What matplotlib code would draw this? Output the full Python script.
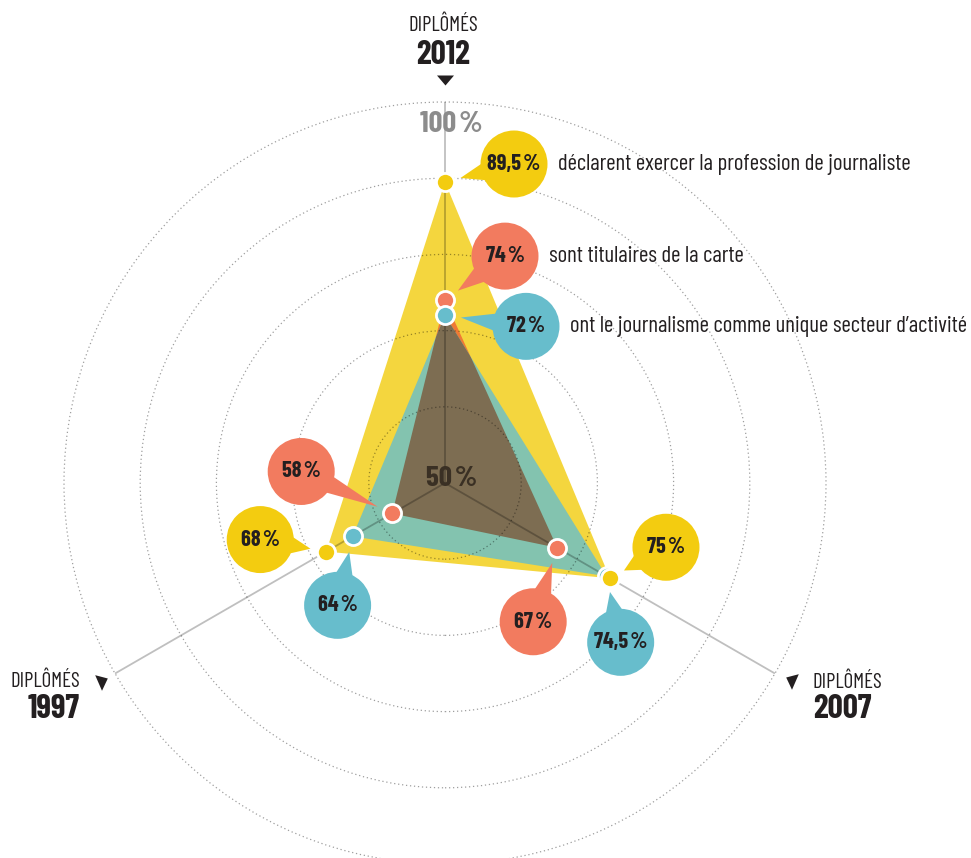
import numpy as np
import matplotlib
matplotlib.use('Agg')
import matplotlib.pyplot as plt
import matplotlib.transforms as mtransforms
from matplotlib.patches import Circle, Polygon

# ========== données ==========
years = ['2012', '2007', '1997']
axis_angles = [90, -30, 210]          # direction de chaque axe (degrés)
journalistes = [89.5, 75, 68]         # déclarent exercer la profession
carte = [74, 67, 58]                  # titulaires de la carte
unique = [72, 74.5, 64]               # unique secteur d'activité
ring_levels = [60, 70, 80, 90, 100]
series_texts = ['déclarent exercer la profession de journaliste',
                'sont titulaires de la carte',
                'ont le journalisme comme unique secteur d\u2019activité']

# ========== mise en page ==========
W, H = 971, 858
CX, CY = 445, 483         # centre du radar (px)
SCALE = 7.62              # px par point de %
R_BUBBLE = 33.5           # rayon des bulles (px)
GAP = 16                  # écart pointe / point (px)
# décalage des bulles par rapport au point (px, y vers le bas)
off_journalistes = [(69, -18), (56, -31), (-66, -12)]
off_carte = [(60, -44), (-24, 74), (-91, -42)]
off_unique = [(81, 11), (14, 66), (-15, 69)]

YELLOW = '#F3CC10'
YELLOW_FILL = '#F4D63E'
RED = '#F27B5F'
ORANGE = '#EF7A35'
BLUE = '#67BDCC'
TEAL = '#83C3AF'
BROWN = '#7D6D52'
INK = '#231F20'
HS = '\u200a'   # espace fine avant %

FONT = ['Barlow Condensed', 'DejaVu Sans']
plt.rcParams['font.family'] = FONT


def to_xy(values):
    a = np.radians(axis_angles)
    r = np.asarray(values, dtype=float) - 50
    return np.column_stack([r * np.cos(a), r * np.sin(a)])


def fmt(v):
    return f'{v:g}'.replace('.', ',') + HS + '%'


fig = plt.figure(figsize=(W / 100, H / 100), dpi=100)
ax = fig.add_axes([0, 0, 1, 1])
ax.set_xlim(-CX / SCALE, (W - CX) / SCALE)
ax.set_ylim(-(H - CY) / SCALE, CY / SCALE)
ax.axis('off')
pix = mtransforms.Affine2D().scale(1, -1).translate(0, H)

# polygones
p_j = to_xy(journalistes)
p_c = to_xy(carte)
p_u = to_xy(unique)
ax.add_patch(Polygon(p_j, closed=True, fc=YELLOW_FILL, ec='none', zorder=1))
ax.add_patch(Polygon(p_c, closed=True, fc=ORANGE, ec='none', zorder=2))
teal = Polygon(p_u, closed=True, fc=TEAL, ec='none', zorder=3)
ax.add_patch(teal)
brown = Polygon(p_c, closed=True, fc=BROWN, ec='none', zorder=4)
ax.add_patch(brown)
brown.set_clip_path(teal)

# cercles pointillés
for lvl in ring_levels:
    ax.add_patch(Circle((0, 0), lvl - 50, fill=False, ec='black', alpha=0.38,
                        lw=0.9, ls=(0, (1, 2.2)), zorder=5, clip_on=False))

# axes
for ang in axis_angles:
    a = np.radians(ang)
    ax.plot([0, 50 * np.cos(a)], [0, 50 * np.sin(a)], color='black',
            alpha=0.25, lw=1.3, zorder=5, solid_capstyle='butt')

ax.text(452, 478, '50' + HS + '%', transform=pix, ha='center', va='center',
        fontsize=21, fontweight='bold', color='#3A3024', zorder=6)
ax.text(451, 125, '100' + HS + '%', transform=pix, ha='center', va='center',
        fontsize=22, fontweight='bold', color='#8C8C8C', zorder=6)

# points + bulles
series = [(carte, p_c, off_carte, RED),
          (unique, p_u, off_unique, BLUE),
          (journalistes, p_j, off_journalistes, YELLOW)]
for vals, pts, offs, col in series:
    ax.scatter(pts[:, 0], pts[:, 1], s=170, color=col, edgecolor='white',
               linewidth=2, zorder=7)

for k, (vals, pts, offs, col) in enumerate(series):
    for v, p, (dx, dy) in zip(vals, pts, offs):
        c = p + np.array([dx, -dy]) / SCALE
        d = c - p
        u = d / np.hypot(*d)
        tip = p + u * GAP / SCALE
        phi = np.arctan2(*(tip - c)[::-1])
        rb = R_BUBBLE / SCALE
        b1 = c + rb * 0.95 * np.array([np.cos(phi + 0.28), np.sin(phi + 0.28)])
        b2 = c + rb * 0.95 * np.array([np.cos(phi - 0.28), np.sin(phi - 0.28)])
        ax.add_patch(Polygon([b1, tip, b2], closed=True, fc=col, ec='none',
                             zorder=8))
        ax.add_patch(Circle(c, rb, fc=col, ec='none', zorder=8))
        ax.text(c[0], c[1], fmt(v), ha='center', va='center', fontsize=16,
                fontweight='bold', color=INK, zorder=9)

# légendes des séries (bulles du haut)
for (vals, pts, offs, col), txt in zip(
        [series[2], series[0], series[1]], series_texts):
    c = pts[0] + np.array([offs[0][0], -offs[0][1]]) / SCALE
    ax.text(c[0] + (R_BUBBLE + 10) / SCALE, c[1], txt, ha='left',
            va='center', fontsize=16.5, color=INK, zorder=9)

# titres des axes (triangle : sommets en px, y vers le haut)
tri_down = [(-8.5, 5), (8.5, 5), (0, -5)]
tri_1997 = [(-6.3, 6.3), (6.3, 3), (0.5, -9.3)]
tri_2007 = [(6.3, 6.3), (-6.3, 3), (-0.5, -9.3)]
title_pos = {
    '2012': dict(tri=(445, 80, tri_down), x=443, ha='center', y1=25, y2=55),
    '2007': dict(tri=(792, 680, tri_2007), x=813, ha='left', y1=682, y2=709),
    '1997': dict(tri=(101, 681, tri_1997), x=80, ha='right', y1=681, y2=709),
}
for yr in years:
    t = title_pos[yr]
    tx, ty, verts = t['tri']
    size = 2 * max(abs(c) for pt in verts for c in pt) * 0.72
    ax.plot([tx], [ty], marker=verts, color=INK, markersize=size,
            markeredgewidth=0, transform=pix, zorder=9)
    ax.text(t['x'], t['y1'], 'DIPLÔMÉS', transform=pix, ha=t['ha'],
            va='center', fontsize=15, color=INK)
    ax.text(t['x'], t['y2'], yr, transform=pix, ha=t['ha'], va='center',
            fontsize=24, fontweight='bold', color=INK)

fig.savefig('out.png', dpi=100)
